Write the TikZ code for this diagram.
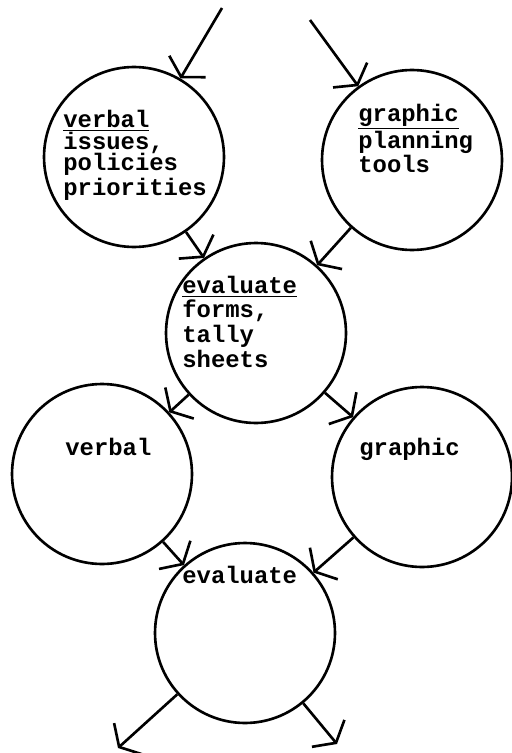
\documentclass[tikz,border=0pt]{standalone}
\usepackage{fontspec}
\newfontfamily\typewriter{Liberation Mono}
\usetikzlibrary{arrows.meta}
\tikzstyle{bubble}=[circle,draw,line width=1.5pt,minimum size=3.6cm,inner sep=0pt]
\tikzstyle{words}=[inner sep=0pt,align=left,anchor=base west,font=\typewriter\bfseries\fontsize{13.6}{12.4}\selectfont]
\tikzstyle{widewords}=[words,font=\typewriter\bfseries\fontsize{13.6}{14}\selectfont]
\tikzstyle{flow}=[line width=1.5pt,-{Straight Barb[length=7pt,width=24pt]}]

\begin{document}
\begin{tikzpicture}[x=0.02cm,y=-0.02cm]
\useasboundingbox (0,0) rectangle (511,753);

%circles
    \foreach \pos/\name in {{(134,157)/c1}, {(412,160)/c2}, {(256,333)/c3}, {(102,474)/c4}, {(422,477)/c5}, {(245,633)/c6}}
        \node[bubble] (\name) at \pos {};

%texts (anchored at the last baseline)
\node[words] (t1) at (63,195) {\underline{verbal}\\issues,\\policies\\priorities};
\node[words] (t2) at (358,173) {\underline{graphic}\\planning\\tools};
\node[widewords] (t3) at (182,367) {\underline{evaluate}\\forms,\\tally\\sheets};
\node[words] (t4) at (65,455) {verbal};
\node[words] (t5) at (359,455) {graphic};
\node[words] (t6) at (182,583) {evaluate};

%loose ends
\coordinate (in1) at (222,8);
\coordinate (in2) at (310,20);
\coordinate (out1) at (118,748);
\coordinate (out2) at (337,744);

  \foreach \source/\dest in {in1/c1, in2/c2, c1/c3, c2/c3, c3/c4, c3/c5, c4/c6, c5/c6, c6/out1, c6/out2}
          \draw[flow] (\source) -- (\dest);

\end{tikzpicture}
\end{document}
